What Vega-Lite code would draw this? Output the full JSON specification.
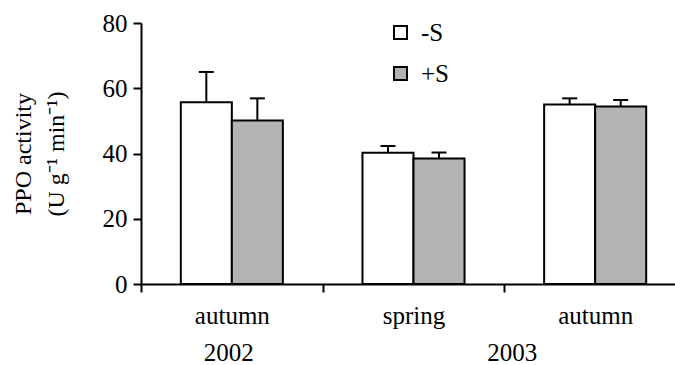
{
  "$schema": "https://vega.github.io/schema/vega-lite/v6.json",
  "autosize": "none",
  "padding": {"left": 141, "top": 23, "right": 0, "bottom": 81},
  "width": 545,
  "height": 261,
  "background": "white",
  "config": {
    "font": "Liberation Serif",
    "view": {"stroke": null},
    "axis": {"domainColor": "black", "domainWidth": 2, "tickColor": "black", "tickWidth": 2, "tickSize": 8, "labelColor": "black", "labelFont": "Liberation Serif", "labelFontSize": 25, "titleFont": "Liberation Serif", "titleFontSize": 24, "titleFontWeight": "normal", "titleColor": "black", "grid": false}
  },
  "datasets": {
    "bars": [
      {"cat": "autumn 2002", "treat": "-S", "value": 55.7, "upper": 65.0},
      {"cat": "autumn 2002", "treat": "+S", "value": 50.1, "upper": 56.9},
      {"cat": "spring 2003", "treat": "-S", "value": 40.2, "upper": 42.3},
      {"cat": "spring 2003", "treat": "+S", "value": 38.5, "upper": 40.3},
      {"cat": "autumn 2003", "treat": "-S", "value": 55.0, "upper": 56.9},
      {"cat": "autumn 2003", "treat": "+S", "value": 54.4, "upper": 56.4}
    ]
  },
  "layer": [
    {
      "data": {"name": "bars"},
      "mark": {"type": "bar", "stroke": "black", "strokeWidth": 2, "opacity": 1},
      "encoding": {
        "x": {"field": "cat", "type": "nominal", "sort": ["autumn 2002", "spring 2003", "autumn 2003"],
              "scale": {"paddingInner": 0, "paddingOuter": 0},
              "axis": {"title": null, "labelAngle": 0, "tickBand": "extent", "labelPadding": 11, "labelExpr": "split(datum.label, ' ')[0]"}},
        "xOffset": {"field": "treat", "type": "nominal", "sort": ["-S", "+S"], "scale": {"paddingInner": 0, "paddingOuter": 0.78}},
        "y": {"field": "value", "type": "quantitative", "scale": {"domain": [0, 80]},
              "axis": {"values": [0, 20, 40, 60, 80], "title": ["PPO activity", "(U g⁻¹ min⁻¹)"], "labelPadding": 6, "titlePadding": 34, "titleLineHeight": 33}},
        "fill": {"field": "treat", "type": "nominal", "scale": {"domain": ["-S", "+S"], "range": ["#ffffff", "#b3b3b3"]},
                 "legend": {"title": null, "orient": "none", "legendX": 247, "legendY": -3, "symbolType": "square", "symbolSize": 169, "symbolStrokeColor": "black", "symbolStrokeWidth": 2, "symbolOpacity": 1, "labelFontSize": 25, "labelFont": "Liberation Serif", "labelColor": "black", "rowPadding": 15, "labelOffset": 8}}
      }
    },
    {
      "data": {"name": "bars"},
      "mark": {"type": "rule", "color": "black", "strokeWidth": 2},
      "encoding": {
        "x": {"field": "cat", "type": "nominal", "sort": ["autumn 2002", "spring 2003", "autumn 2003"]},
        "xOffset": {"field": "treat", "type": "nominal", "sort": ["-S", "+S"]},
        "y": {"field": "value", "type": "quantitative"},
        "y2": {"field": "upper"}
      }
    },
    {
      "data": {"name": "bars"},
      "mark": {"type": "tick", "color": "black", "thickness": 2, "size": 15, "opacity": 1},
      "encoding": {
        "x": {"field": "cat", "type": "nominal", "sort": ["autumn 2002", "spring 2003", "autumn 2003"]},
        "xOffset": {"field": "treat", "type": "nominal", "sort": ["-S", "+S"]},
        "y": {"field": "upper", "type": "quantitative"}
      }
    },
    {
      "data": {"values": [{"cat": "autumn 2002", "year": "2002"}]},
      "mark": {"type": "text", "font": "Liberation Serif", "fontSize": 25, "color": "black", "baseline": "alphabetic", "dy": 77, "dx": -3},
      "encoding": {
        "x": {"field": "cat", "type": "nominal", "sort": ["autumn 2002", "spring 2003", "autumn 2003"]},
        "y": {"datum": 0, "type": "quantitative"},
        "text": {"field": "year"}
      }
    },
    {
      "data": {"values": [{"cat": "spring 2003", "year": "2003"}]},
      "mark": {"type": "text", "font": "Liberation Serif", "fontSize": 25, "color": "black", "baseline": "alphabetic", "dy": 77, "dx": 8},
      "encoding": {
        "x": {"field": "cat", "type": "nominal", "sort": ["autumn 2002", "spring 2003", "autumn 2003"], "bandPosition": 1},
        "y": {"datum": 0, "type": "quantitative"},
        "text": {"field": "year"}
      }
    }
  ]
}
